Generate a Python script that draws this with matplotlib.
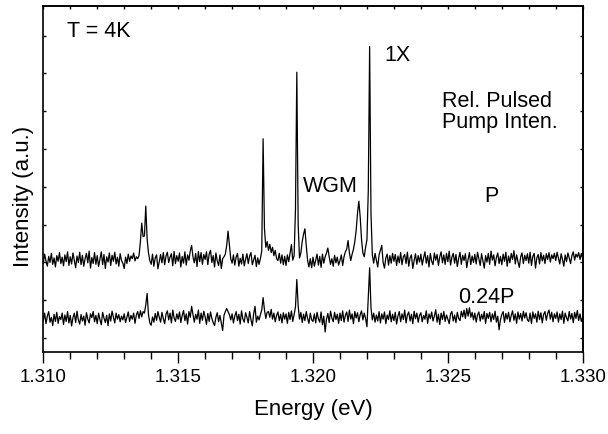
import numpy as np
import matplotlib
matplotlib.use("Agg")
import matplotlib.pyplot as plt
from matplotlib.ticker import MultipleLocator, NullFormatter, FormatStrFormatter

plt.rcParams['font.family'] = ['Liberation Sans', 'DejaVu Sans']

# spectra, 0.00005 eV steps from 1.310 to 1.330 eV
# (intensity in arbitrary units, already stacked as in the plot)
intensity_P = [
    1.98, 2.22, 2.04, 1.90, 2.16, 2.00, 2.24, 1.95, 2.12, 1.88, 2.18, 2.03, 2.26, 1.97, 2.14, 1.91, 2.20, 2.02, 2.28, 1.92,
    2.15, 1.96, 2.25, 2.05, 1.86, 2.17, 2.00, 2.27, 1.94, 2.19, 1.90, 2.10, 2.24, 1.99, 2.30, 1.85, 2.13, 1.97, 2.26, 1.95,
    2.18, 1.89, 2.08, 2.28, 1.94, 2.21, 1.84, 2.15, 2.01, 2.25, 1.92, 2.19, 2.03, 2.27, 1.96, 2.14, 1.90, 2.23, 2.05, 1.98,
    1.84, 2.14, 1.97, 2.22, 2.03, 2.17, 2.10, 2.25, 2.04, 2.15, 2.10, 2.18, 2.55, 3.04, 2.68, 2.70, 3.49, 2.62, 2.25, 2.05,
    1.95, 2.22, 1.90, 2.12, 2.20, 1.83, 2.02, 2.21, 1.99, 2.26, 1.94, 2.17, 2.27, 2.00, 2.14, 2.23, 1.91, 2.29, 1.97, 2.18,
    2.03, 2.25, 1.88, 2.16, 1.98, 2.28, 1.93, 2.20, 2.06, 2.30, 2.45, 2.15, 1.99, 2.24, 1.89, 2.29, 2.02, 2.26, 1.95, 2.21,
    2.08, 2.28, 1.94, 2.22, 2.32, 2.00, 2.18, 1.88, 2.25, 2.04, 1.92, 2.20, 1.84, 2.10, 2.15, 2.22, 2.45, 2.83, 2.45, 2.10,
    1.98, 2.20, 1.93, 2.14, 2.24, 1.90, 2.11, 1.96, 2.22, 1.91, 2.08, 2.23, 1.97, 2.17, 2.26, 1.94, 2.06, 2.19, 1.89, 2.12,
    1.95, 2.10, 2.30, 5.27, 2.90, 2.40, 2.55, 2.32, 2.48, 2.26, 2.40, 2.18, 2.32, 2.10, 2.05, 2.24, 1.98, 2.20, 1.94, 2.16,
    1.92, 2.20, 2.02, 2.25, 2.47, 2.06, 2.18, 3.40, 7.03, 3.00, 2.12, 2.25, 2.55, 2.75, 2.89, 2.45, 2.05, 1.88, 2.10, 1.86,
    2.14, 1.90, 2.06, 2.22, 1.93, 2.16, 1.87, 2.22, 1.98, 2.15, 2.25, 2.38, 2.15, 1.95, 2.10, 1.90, 2.19, 1.99, 2.14, 1.93,
    2.05, 2.20, 1.92, 2.15, 2.28, 2.35, 2.58, 2.25, 2.05, 2.22, 2.35, 2.55, 2.85, 3.30, 3.62, 3.20, 2.60, 2.25, 2.15, 2.40,
    2.60, 3.90, 7.71, 3.30, 2.20, 1.98, 2.24, 2.06, 1.88, 2.20, 2.32, 2.45, 2.00, 1.85, 2.12, 2.22, 1.93, 2.18, 1.98, 2.24,
    2.03, 2.21, 1.92, 2.17, 1.99, 2.26, 1.94, 2.15, 2.21, 1.97, 2.27, 1.90, 2.12, 2.20, 1.84, 2.05, 2.23, 1.95, 2.18, 2.01,
    2.22, 1.93, 2.12, 2.28, 1.98, 2.18, 1.88, 2.24, 2.03, 1.94, 2.25, 2.06, 2.21, 1.92, 2.15, 2.28, 1.99, 2.20, 1.95, 2.24,
    2.02, 2.30, 1.93, 2.14, 2.24, 1.98, 2.21, 1.89, 2.10, 2.27, 1.95, 2.19, 2.05, 2.23, 1.86, 2.08, 2.26, 1.94, 2.17, 2.00,
    2.21, 1.96, 2.27, 2.10, 1.92, 2.23, 2.04, 1.85, 2.18, 2.01, 2.24, 1.95, 2.30, 2.06, 2.20, 1.91, 2.13, 2.25, 1.97, 2.16,
    1.94, 2.22, 2.03, 2.27, 1.90, 2.17, 1.99, 2.24, 2.08, 2.31, 1.96, 2.20, 2.02, 1.87, 2.15, 2.25, 1.97, 2.19, 2.05, 2.23,
    1.98, 2.27, 1.92, 2.16, 2.24, 1.85, 2.12, 2.21, 1.96, 2.26, 2.04, 2.19, 1.97, 2.23, 2.08, 2.26, 2.01, 2.20, 2.10, 2.24,
    2.05, 2.27, 2.12, 1.96, 2.23, 2.08, 1.90, 2.20, 2.02, 2.25, 2.12, 1.97, 2.18, 2.28, 2.06, 2.22, 2.14, 2.26, 2.08, 2.24,
    2.10,
]

intensity_024P = [
    0.46, 0.66, 0.38, 0.58, 0.70, 0.42, 0.55, 0.33, 0.63, 0.44, 0.68, 0.39, 0.57, 0.49, 0.66, 0.36, 0.61, 0.44, 0.70, 0.40,
    0.60, 0.32, 0.54, 0.66, 0.41, 0.71, 0.48, 0.37, 0.62, 0.45, 0.58, 0.34, 0.67, 0.50, 0.40, 0.64, 0.54, 0.70, 0.43, 0.60,
    0.38, 0.66, 0.49, 0.35, 0.68, 0.53, 0.41, 0.60, 0.33, 0.64, 0.45, 0.71, 0.55, 0.40, 0.66, 0.50, 0.62, 0.43, 0.58, 0.48,
    0.64, 0.41, 0.55, 0.69, 0.44, 0.60, 0.50, 0.66, 0.39, 0.61, 0.70, 0.52, 0.72, 0.56, 0.70, 0.66, 0.88, 1.18, 0.62, 0.40,
    0.34, 0.56, 0.42, 0.65, 0.47, 0.70, 0.55, 0.42, 0.68, 0.51, 0.38, 0.63, 0.72, 0.48, 0.66, 0.40, 0.74, 0.53, 0.44, 0.64,
    0.50, 0.69, 0.41, 0.60, 0.73, 0.46, 0.64, 0.37, 0.70, 0.55, 0.84, 0.62, 0.42, 0.63, 0.50, 0.74, 0.39, 0.66, 0.47, 0.71,
    0.56, 0.36, 0.65, 0.44, 0.69, 0.52, 0.41, 0.33, 0.55, 0.67, 0.43, 0.60, 0.40, 0.20, 0.60, 0.70, 0.78, 0.70, 0.62, 0.48,
    0.64, 0.40, 0.58, 0.70, 0.46, 0.63, 0.37, 0.72, 0.50, 0.42, 0.67, 0.55, 0.40, 0.70, 0.49, 0.32, 0.64, 0.84, 0.42, 0.58,
    0.48, 0.62, 0.74, 1.07, 0.75, 0.52, 0.68, 0.70, 0.55, 0.76, 0.50, 0.66, 0.43, 0.60, 0.69, 0.46, 0.63, 0.40, 0.67, 0.50,
    0.64, 0.39, 0.68, 0.49, 0.72, 0.44, 0.62, 0.82, 1.55, 0.85, 0.50, 0.68, 0.41, 0.63, 0.46, 0.70, 0.52, 0.39, 0.66, 0.48,
    0.44, 0.64, 0.40, 0.68, 0.51, 0.42, 0.69, 0.35, 0.58, 0.16, 0.50, 0.65, 0.41, 0.71, 0.53, 0.43, 0.68, 0.49, 0.63, 0.39,
    0.66, 0.46, 0.72, 0.42, 0.60, 0.69, 0.44, 0.74, 0.50, 0.64, 0.38, 0.70, 0.53, 0.67, 0.43, 0.62, 0.72, 0.48, 0.66, 0.52,
    0.30, 1.05, 1.86, 0.80, 0.48, 0.66, 0.42, 0.61, 0.45, 0.70, 0.40, 0.64, 0.50, 0.69, 0.38, 0.61, 0.49, 0.72, 0.43, 0.63,
    0.46, 0.68, 0.37, 0.58, 0.70, 0.43, 0.64, 0.49, 0.74, 0.40, 0.61, 0.69, 0.45, 0.63, 0.38, 0.71, 0.51, 0.66, 0.42, 0.60,
    0.67, 0.43, 0.60, 0.50, 0.72, 0.39, 0.64, 0.51, 0.69, 0.45, 0.58, 0.75, 0.42, 0.63, 0.36, 0.66, 0.49, 0.70, 0.44, 0.61,
    0.50, 0.38, 0.64, 0.70, 0.45, 0.61, 0.41, 0.68, 0.52, 0.46, 0.71, 0.56, 0.74, 0.52, 0.78, 0.58, 0.80, 0.55, 0.68, 0.48,
    0.66, 0.42, 0.61, 0.69, 0.45, 0.63, 0.50, 0.70, 0.39, 0.65, 0.52, 0.68, 0.43, 0.64, 0.49, 0.71, 0.42, 0.58, 0.22, 0.48,
    0.62, 0.70, 0.41, 0.65, 0.50, 0.68, 0.43, 0.60, 0.72, 0.47, 0.64, 0.39, 0.69, 0.50, 0.65, 0.45, 0.71, 0.53, 0.67, 0.48,
    0.44, 0.66, 0.38, 0.69, 0.52, 0.64, 0.42, 0.71, 0.49, 0.67, 0.40, 0.62, 0.70, 0.47, 0.65, 0.74, 0.50, 0.68, 0.43, 0.64,
    0.52, 0.69, 0.42, 0.64, 0.49, 0.71, 0.39, 0.66, 0.54, 0.45, 0.70, 0.50, 0.65, 0.41, 0.68, 0.52, 0.73, 0.46, 0.64, 0.44,
    0.55,
]

assert len(intensity_P) == 401 and len(intensity_024P) == 401
energy = np.linspace(1.310, 1.330, 401)

x_ticks = [1.310, 1.315, 1.320, 1.325, 1.330]

fig = plt.figure(figsize=(6.08, 4.34), dpi=100)
ax = fig.add_axes([0.0712, 0.1883, 0.8872, 0.7986])

ax.plot(energy, intensity_P, color='black', lw=0.9)
ax.plot(energy, intensity_024P, color='black', lw=0.9)

ax.set_xlim(1.310, 1.330)
ax.set_ylim(-0.376, 8.79)

# bottom ticks point out, top/left/right short and inward
ax.set_xticks(x_ticks)
ax.xaxis.set_major_formatter(FormatStrFormatter('%.3f'))
ax.xaxis.set_minor_locator(MultipleLocator(0.001))
ax.tick_params(axis='x', which='major', direction='out', length=8, width=1, labelsize=13.5, pad=4)
ax.tick_params(axis='x', which='minor', direction='out', length=4.8, width=1)
ax.set_yticks(range(0, 9))
ax.yaxis.set_major_formatter(NullFormatter())
ax.tick_params(axis='y', direction='in', length=2, width=1)

top = ax.secondary_xaxis('top')
top.set_xticks(x_ticks)
top.xaxis.set_minor_locator(MultipleLocator(0.001))
top.xaxis.set_major_formatter(NullFormatter())
top.tick_params(which='both', direction='in', length=2.5, width=1)

right = ax.secondary_yaxis('right')
right.set_yticks(range(0, 9))
right.yaxis.set_major_formatter(NullFormatter())
right.tick_params(direction='in', length=2.5, width=1)

for sp in list(ax.spines.values()) + [top.spines['top'], right.spines['right']]:
    sp.set_linewidth(1.2)

ax.set_xlabel('Energy (eV)', fontsize=16)
ax.set_ylabel('Intensity (a.u.)', fontsize=16)
ax.xaxis.set_label_coords(0.5, -0.135)
ax.yaxis.set_label_coords(-0.017, 0.45)

txt = dict(fontsize=15.5, ha='left', va='baseline')
ax.text(1.31087, 7.95, 'T = 4K', **txt)
ax.text(1.32266, 7.34, '1X', **txt)
ax.text(1.32479, 6.12, 'Rel. Pulsed', **txt)
ax.text(1.32479, 5.55, 'Pump Inten.', **txt)
ax.text(1.31964, 3.86, 'WGM', **txt)
ax.text(1.32634, 3.61, 'P', **txt)
ax.text(1.32537, 0.92, '0.24P', **txt)

fig.savefig('out.png', dpi=100)
